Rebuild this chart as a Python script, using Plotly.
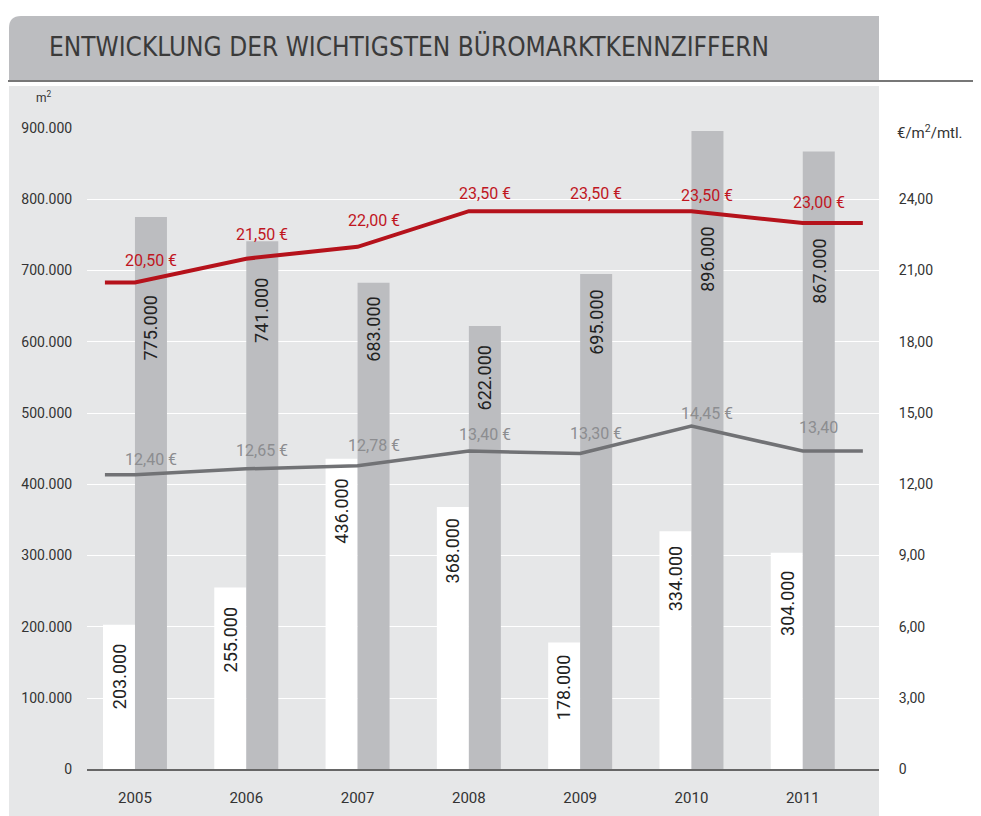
import plotly.graph_objects as go

# ---------------- data ----------------
years = ["2005", "2006", "2007", "2008", "2009", "2010", "2011"]
take_up = [203000, 255000, 436000, 368000, 178000, 334000, 304000]      # white bars
vacancy = [775000, 741000, 683000, 622000, 695000, 896000, 867000]      # grey bars
top_rent = [20.50, 21.50, 22.00, 23.50, 23.50, 23.50, 23.00]           # red line
avg_rent = [12.40, 12.65, 12.78, 13.40, 13.30, 14.45, 13.40]           # grey line
top_rent_labels = ["20,50 €", "21,50 €", "22,00 €", "23,50 €", "23,50 €", "23,50 €", "23,00 €"]
avg_rent_labels = ["12,40 €", "12,65 €", "12,78 €", "13,40 €", "13,30 €", "14,45 €", "13,40"]
left_tickvals = [0, 100000, 200000, 300000, 400000, 500000, 600000, 700000, 800000, 900000]
left_ticktext = ["0", "100.000", "200.000", "300.000", "400.000", "500.000",
                 "600.000", "700.000", "800.000", "900.000"]
right_tickvals = [0, 3, 6, 9, 12, 15, 18, 21, 24]
right_ticktext = ["0", "3,00", "6,00", "9,00", "12,00", "15,00", "18,00", "21,00", "24,00"]

# ---------------- style ----------------
W, H = 965, 816
OX, OY, SY = 8, 16, 0.98      # observed placement of the figure in the photographed page
FONT = "Roboto, 'Open Sans', sans-serif"
TITLE_FONT = "'Liberation Sans Narrow', 'DejaVu Sans Condensed', Roboto, sans-serif"
PANEL = "#e6e7e8"
BOX = "#bcbdc0"
GREY_BAR = "#bcbdc0"
RED = "#b5121b"
GREY_LINE = "#717275"
RED_TXT = "#c0161f"
GREY_TXT = "#8c8d90"
TXT = "#333333"

BW = 0.2875           # bar width in category units
LINE_START, LINE_END = -0.27, 6.54   # flat line extensions at both ends
white_gap = [17, 18, 18, 9, 11, 13, 16]      # label offset below bar top (px)
grey_gap = [76, 35, 12, 17, 14, 94, 85]
red_shift = [22, 24, 26, 18, 18, 16, 21]
grey_shift = [15, 18, 20, 17, 20, 13, 24]


def px(x):
    return (x - OX) / W


def py(y):
    return 1 - max(0.0, (y - OY) / SY) / H


xs = list(range(len(years)))

fig = go.Figure()

fig.add_trace(go.Bar(x=xs, y=take_up, width=BW, offset=-BW, marker=dict(color="white", line=dict(width=0)),
                     hoverinfo="y", name="Flächenumsatz"))
fig.add_trace(go.Bar(x=xs, y=vacancy, width=BW, offset=0, marker=dict(color=GREY_BAR, line=dict(width=0)),
                     hoverinfo="y", name="Leerstand"))

fig.add_trace(go.Scatter(x=[LINE_START] + xs + [LINE_END], y=[top_rent[0]] + top_rent + [top_rent[-1]],
                         mode="lines", line=dict(color=RED, width=4), yaxis="y2", name="Spitzenmiete"))
fig.add_trace(go.Scatter(x=[LINE_START] + xs + [LINE_END], y=[avg_rent[0]] + avg_rent + [avg_rent[-1]],
                         mode="lines", line=dict(color=GREY_LINE, width=3.5), yaxis="y2", name="Durchschnittsmiete"))

annotations = []
for i, v in enumerate(take_up):
    annotations.append(dict(x=i - BW / 2, y=v, xref="x", yref="y", text=f"{v:,.0f}".replace(",", "."),
                            textangle=-90, showarrow=False, yanchor="top", xanchor="center",
                            yshift=-white_gap[i], font=dict(family=FONT, size=18, color="#222222")))
for i, v in enumerate(vacancy):
    annotations.append(dict(x=i + BW / 2, y=v, xref="x", yref="y", text=f"{v:,.0f}".replace(",", "."),
                            textangle=-90, showarrow=False, yanchor="top", xanchor="center",
                            yshift=-grey_gap[i], font=dict(family=FONT, size=18, color="#222222")))
for i, v in enumerate(top_rent):
    annotations.append(dict(x=i + BW / 2, y=v, xref="x", yref="y2", text=top_rent_labels[i],
                            showarrow=False, yanchor="middle", xanchor="center", yshift=red_shift[i],
                            font=dict(family=FONT, size=16, color=RED_TXT)))
for i, v in enumerate(avg_rent):
    annotations.append(dict(x=i + BW / 2, y=v, xref="x", yref="y2", text=avg_rent_labels[i],
                            showarrow=False, yanchor="middle", xanchor="center", yshift=grey_shift[i],
                            font=dict(family=FONT, size=16, color=GREY_TXT)))

annotations += [
    dict(x=px(47), y=py(46), xref="paper", yref="paper", text="ENTWICKLUNG DER WICHTIGSTEN BÜROMARKTKENNZIFFERN",
         showarrow=False, xanchor="left", yanchor="middle",
         font=dict(family=TITLE_FONT, size=26, color="#3a3a3a")),
    dict(x=px(34), y=py(97), xref="paper", yref="paper", text="m<sup>2</sup>", showarrow=False,
         xanchor="left", yanchor="middle", font=dict(family=FONT, size=12, color=TXT)),
    dict(x=px(895), y=py(132), xref="paper", yref="paper", text="€/m<sup>2</sup>/mtl.", showarrow=False,
         xanchor="left", yanchor="middle", font=dict(family=FONT, size=15, color=TXT)),
]

r = 12
shapes = [
    dict(type="rect", xref="paper", yref="paper", x0=px(9), x1=px(879), y0=0, y1=py(86),
         fillcolor=PANEL, line=dict(width=0), layer="below"),
    dict(type="path", xref="paper", yref="paper",
         path=(f"M {px(9)},{py(80)} L {px(9)},{py(16 + r)} Q {px(9)},{py(16)} {px(9 + r)},{py(16)} "
               f"L {px(879)},{py(16)} L {px(879)},{py(80)} Z"),
         fillcolor=BOX, line=dict(width=0), layer="below"),
    dict(type="line", xref="paper", yref="paper", x0=0, x1=1, y0=py(81), y1=py(81),
         line=dict(color="#4a4a4a", width=1.5), layer="below"),
]

fig.update_layout(
    width=W, height=H,
    margin=dict(l=0, r=0, t=0, b=0),
    paper_bgcolor="white",
    plot_bgcolor="rgba(0,0,0,0)",
    barmode="overlay",
    showlegend=False,
    font=dict(family=FONT, size=14, color=TXT),
    xaxis=dict(domain=[px(87), px(879)], range=[-0.431, 6.685], tickvals=xs, ticktext=years,
               showgrid=False, zeroline=False, showline=True, linecolor="#666666", linewidth=2,
               ticks="outside", ticklen=14, tickcolor="rgba(0,0,0,0)",
               tickfont=dict(family=FONT, size=15, color=TXT), fixedrange=True),
    yaxis=dict(domain=[py(769), py(128)], range=[0, 900000], tickvals=left_tickvals, ticktext=left_ticktext,
               showgrid=True, gridcolor="white", gridwidth=1.3, zeroline=False, showline=False,
               ticks="outside", ticklen=11, tickcolor="rgba(0,0,0,0)",
               tickfont=dict(family=FONT, size=14, color=TXT), fixedrange=True),
    yaxis2=dict(overlaying="y", side="right", range=[0, 27], tickvals=right_tickvals, ticktext=right_ticktext,
                showgrid=False, zeroline=False, showline=False,
                ticks="outside", ticklen=16, tickcolor="rgba(0,0,0,0)",
                tickfont=dict(family=FONT, size=14, color=TXT), fixedrange=True),
    annotations=annotations,
    shapes=shapes,
)

fig.write_html("out.html")
